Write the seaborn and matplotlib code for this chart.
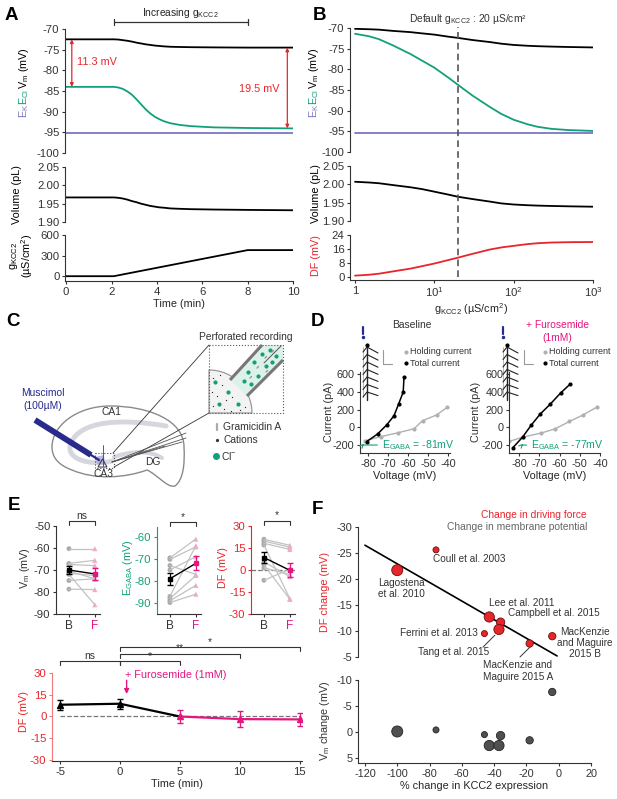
import numpy as np
import pandas as pd
import matplotlib
matplotlib.use("Agg")
import matplotlib.pyplot as plt
import matplotlib.transforms as mtransforms
from matplotlib.path import Path
from matplotlib.patches import PathPatch, Polygon, Rectangle, Wedge
import seaborn as sns

# ---------------- data ----------------
# A: time course while g_KCC2 is ramped
time_a = [0.0, 2.1, 2.3, 2.5, 2.7, 2.9, 3.1, 3.3, 3.5, 3.7, 3.9, 4.1, 4.3, 4.6,
          5.0, 5.5, 6.5, 8.0, 10.0]
vm_a = [-72.5, -72.5, -72.55, -72.7, -72.85, -73.05, -73.3, -73.5, -73.7, -73.85,
        -74.0, -74.1, -74.2, -74.3, -74.35, -74.4, -74.45, -74.5, -74.5]
ecl_a = [-84.0, -84.0, -84.15, -84.5, -85.1, -85.9, -87.0, -88.2, -89.4, -90.4,
         -91.2, -91.8, -92.3, -92.8, -93.2, -93.5, -93.8, -93.95, -94.05]
ek_a = [-95.2] * 19
vol_a = [1.967, 1.967, 1.966, 1.964, 1.961, 1.957, 1.954, 1.950, 1.947, 1.944,
         1.942, 1.940, 1.939, 1.937, 1.936, 1.935, 1.934, 1.933, 1.932]
ramp_t = [0.0, 2.1, 8.0, 10.0]
ramp_g = [0, 0, 380, 380]

# B: steady state vs g_KCC2
g_b = [1, 1.5, 2, 3, 5, 7, 10, 15, 20, 30, 50, 70, 100, 150, 200, 300, 500, 1000]
vm_b = [-70.2, -70.3, -70.4, -70.7, -71.0, -71.3, -71.6, -72.1, -72.4, -72.9,
        -73.4, -73.8, -74.1, -74.3, -74.4, -74.5, -74.6, -74.7]
ecl_b = [-71.4, -72.0, -72.7, -74.2, -76.3, -77.9, -79.6, -82.0, -83.8, -86.3,
         -89.1, -90.8, -92.2, -93.3, -93.9, -94.4, -94.7, -94.9]
ek_b = [-95.3] * 18
vol_b = [2.007, 2.005, 2.003, 1.998, 1.992, 1.987, 1.980, 1.972, 1.966, 1.960,
         1.953, 1.948, 1.945, 1.943, 1.942, 1.941, 1.940, 1.939]
df_b = [0.8, 1.3, 1.9, 3.2, 4.8, 6.2, 7.7, 9.7, 11.1, 13.2, 15.7, 16.9, 17.8,
        18.8, 19.3, 19.7, 19.9, 20.0]
default_g = 20

# D: I-V relations
v_hold_base = [-81.5, -73.7, -64.9, -57.0, -52.7, -45.7, -40.4]
i_hold_base = [-151, -106, -61, -16, 75, 140, 226]
v_tot_base = [-80.7, -75.2, -70.7, -67.0, -64.7, -62.4, -62.0]
i_tot_base = [-162, -75, 26, 131, 263, 399, 565]
v_hold_furo = [-85.0, -78.3, -69.3, -62.2, -55.1, -48.3, -41.6]
i_hold_furo = [-160, -111, -66, -17, 66, 141, 228]
v_tot_furo = [-83.0, -78.3, -74.0, -69.6, -64.6, -59.5, -54.6]
i_tot_furo = [-228, -111, 25, 149, 262, 387, 492]
egaba_base, egaba_furo = -81, -77

# E: paired cells, baseline (B) vs furosemide (F)
vm_cells_b = [-60.3, -67.0, -67.5, -70.5, -71.5, -72.0, -74.8, -78.7]
vm_cells_f = [-60.3, -65.6, -68.0, -74.0, -72.5, -85.8, -74.0, -78.9]
vm_mean, vm_sem = [-70.0, -71.8], [1.6, 2.8]
eg_cells_b = [-69.5, -70.2, -73.0, -75.0, -87.0, -88.0, -89.0, -89.8]
eg_cells_f = [-61.0, -64.5, -77.0, -69.0, -64.0, -77.5, -82.0, -86.0]
eg_mean, eg_sem = [-79.0, -72.0], [2.8, 3.2]
df_cells_b = [21.0, 19.8, 18.2, 17.0, 5.5, 3.5, 1.5, -7.0]
df_cells_f = [16.8, 15.5, 14.0, -19.5, -4.5, -20.0, -3.0, 0.5]
df_mean, df_sem = [8.5, -0.2], [3.5, 4.8]

e_time = [-5, 0, 5, 10, 15]
e_df = [8.1, 8.8, 0.0, -1.8, -2.0]
e_sem = [3.5, 3.6, 4.6, 5.5, 4.4]

# F: literature summary
studies = ["Coull et al. 2003", "Lagostena et al. 2010", "Lee et al. 2011",
           "Campbell et al. 2015", "Ferrini et al. 2013", "Tang et al. 2015",
           "MacKenzie and Maguire 2015 A", "MacKenzie and Maguire 2015 B"]
kcc2_change = [-76, -100, -43, -36, -46, -37, -18, -4]
df_change = [-25.6, -21.7, -12.7, -11.7, -9.5, -10.3, -7.6, -9.0]
vm_change = [-0.4, -0.1, 2.6, 0.7, 0.5, 2.6, 1.6, -7.7]
weight = [5, 10, 9, 7, 5, 9, 6, 6]
fit_x = [-120, -1]
fit_y = [-26.5, -5.2]

# ---------------- style ----------------
GREEN = "#12a07a"
PURPLE = "#7a76c4"
RED = "#e8252b"
SALMON = "#f07a7a"
PINK = "#e4177f"
LPINK = "#f4a9cb"
LGRAY = "#c2c2c2"
INK = "#333333"
NAVY = "#282a8c"
FS = 7.4     # text / axis labels
TS = 8.2     # tick labels

sns.set_theme(style="ticks")
plt.rcParams["font.family"] = ["Liberation Sans", "DejaVu Sans"]
plt.rcParams["mathtext.fontset"] = "custom"
plt.rcParams["mathtext.rm"] = "Liberation Sans"
plt.rcParams["mathtext.it"] = "Liberation Sans:italic"
plt.rcParams["mathtext.default"] = "regular"
plt.rcParams["axes.unicode_minus"] = False
plt.rcParams["font.size"] = FS
plt.rcParams["axes.linewidth"] = 0.8

W, H = 617, 799
fig = plt.figure(figsize=(W / 100, H / 100), dpi=100)

ov = fig.add_axes([0, 0, 1, 1])
ov.set_xlim(0, W)
ov.set_ylim(H, 0)
ov.axis("off")


def px_axes(x0, y0, x1, y1):
    ax = fig.add_axes([x0 / W, 1 - y1 / H, (x1 - x0) / W, (y1 - y0) / H])
    ax.set_facecolor("none")
    return ax


def style(ax, color=INK, bottom=True, size=TS):
    for s in ["top", "right"]:
        ax.spines[s].set_visible(False)
    ax.spines["left"].set_color(color)
    ax.spines["bottom"].set_color(INK)
    ax.tick_params(axis="y", colors=color, labelcolor=color, length=2.5,
                   width=0.8, pad=1.5, labelsize=size)
    ax.tick_params(axis="x", colors=INK, labelcolor=INK, length=2.5,
                   width=0.8, pad=1.5, labelsize=size)
    ax.tick_params(which="minor", length=0)
    if not bottom:
        ax.spines["bottom"].set_visible(False)
        ax.set_xticks([])
    ax.set_xlabel("")
    ax.set_ylabel("")


def txt(x, y, s, **kw):
    kw.setdefault("ha", "center")
    kw.setdefault("va", "center")
    kw.setdefault("fontsize", FS)
    kw.setdefault("color", INK)
    ov.text(x, y, s, **kw)


def bracket(ax, x0, x1, yf, label, drop=0.045, color=INK):
    tr = mtransforms.blended_transform_factory(ax.transData, ax.transAxes)
    ax.plot([x0, x0, x1, x1], [yf - drop, yf, yf, yf - drop], transform=tr,
            color=color, lw=0.8, clip_on=False)
    if label:
        ax.text((x0 + x1) / 2, yf + 0.005, label, transform=tr, ha="center",
                va="bottom", fontsize=FS, color=color)


for letter, (x, y) in {"A": (11, 16), "B": (319, 16), "C": (13, 322),
                       "D": (317, 322), "E": (14, 506), "F": (317, 509)}.items():
    txt(x, y, letter, fontsize=13.5, fontweight="bold", color="black")

# ---------------- panel A ----------------
a1 = px_axes(65, 29, 293, 153)
sns.lineplot(x=time_a, y=ek_a, ax=a1, color=PURPLE, lw=1.3)
sns.lineplot(x=time_a, y=ecl_a, ax=a1, color=GREEN, lw=1.3)
sns.lineplot(x=time_a, y=vm_a, ax=a1, color="black", lw=1.3)
a1.set_xlim(-0.05, 10)
a1.set_ylim(-100, -70)
a1.set_yticks(range(-100, -69, 5))
style(a1, bottom=False)
arrow_kw = dict(arrowstyle="<|-|>", color=RED, lw=0.9, mutation_scale=5,
                shrinkA=0, shrinkB=0)
a1.annotate("", xy=(0.25, ecl_a[0]), xytext=(0.25, vm_a[0]), arrowprops=arrow_kw)
a1.annotate("", xy=(9.75, ecl_a[-1]), xytext=(9.75, vm_a[-1]), arrowprops=arrow_kw)
a1.text(0.5, -78.0, "11.3 mV", color=RED, fontsize=7.8, va="center")
a1.text(9.4, -84.5, "19.5 mV", color=RED, fontsize=7.8, va="center", ha="right")
tr_a = mtransforms.blended_transform_factory(a1.transData, a1.transAxes)
a1.plot([ramp_t[1], ramp_t[2]], [1.056, 1.056], transform=tr_a, color=INK, lw=0.9, clip_on=False)
for xe in (ramp_t[1], ramp_t[2]):
    a1.plot([xe, xe], [1.03, 1.082], transform=tr_a, color=INK, lw=0.9, clip_on=False)
a1.text((ramp_t[1] + ramp_t[2]) / 2, 1.13, "Increasing g$_{KCC2}$", transform=tr_a,
        ha="center", va="center", fontsize=FS)

a2 = px_axes(65, 167, 293, 222)
sns.lineplot(x=time_a, y=vol_a, ax=a2, color="black", lw=1.3)
a2.set_xlim(-0.05, 10)
a2.set_ylim(1.90, 2.05)
a2.set_yticks([1.90, 1.95, 2.00, 2.05])
a2.set_yticklabels(["1.90", "1.95", "2.00", "2.05"])
style(a2, bottom=False)

a3 = px_axes(65, 235, 293, 281)
sns.lineplot(x=ramp_t, y=ramp_g, ax=a3, color="black", lw=1.3)
a3.set_xlim(-0.05, 10)
a3.set_ylim(-70, 600)
a3.set_yticks([0, 300, 600])
a3.set_xticks(range(0, 11, 2))
style(a3)
a3.set_xlabel("Time (min)", fontsize=7.8, labelpad=1.5)


def ylab_stack(x):
    txt(x, 68, "V$_m$ (mV)", rotation=90, color="black", fontsize=7.8)
    txt(x, 97, "E$_{Cl}$", rotation=90, color=GREEN, fontsize=7.8)
    txt(x, 111, "E$_K$", rotation=90, color=PURPLE, fontsize=7.8)


ylab_stack(24)
txt(17, 195, "Volume (pL)", rotation=90, color="black", fontsize=7.8)
txt(14, 256, "g$_{KCC2}$", rotation=90, color="black", fontsize=7.8)
txt(27, 256, "(µS/cm$^2$)", rotation=90, color="black", fontsize=7.8)

# ---------------- panel B ----------------
bx = (0.864, 1000)
b1 = px_axes(350, 28, 593, 152)
b1.set_xscale("log")
sns.lineplot(x=g_b, y=ek_b, ax=b1, color=PURPLE, lw=1.3)
sns.lineplot(x=g_b, y=ecl_b, ax=b1, color=GREEN, lw=1.3)
sns.lineplot(x=g_b, y=vm_b, ax=b1, color="black", lw=1.3)
b1.set_xlim(*bx)
b1.set_ylim(-100, -70)
b1.set_yticks(range(-100, -69, 5))
style(b1, bottom=False)

b2 = px_axes(350, 166, 593, 221)
b2.set_xscale("log")
sns.lineplot(x=g_b, y=vol_b, ax=b2, color="black", lw=1.3)
b2.set_xlim(*bx)
b2.set_ylim(1.90, 2.05)
b2.set_yticks([1.90, 1.95, 2.00, 2.05])
b2.set_yticklabels(["1.90", "1.95", "2.00", "2.05"])
style(b2, bottom=False)

b3 = px_axes(350, 235, 593, 280)
b3.set_xscale("log")
sns.lineplot(x=g_b, y=df_b, ax=b3, color=RED, lw=1.3)
b3.set_xlim(*bx)
b3.set_ylim(-1.7, 24)
b3.set_yticks([0, 8, 16, 24])
b3.set_xticks([1, 10, 100, 1000])
b3.set_xticklabels(["1", "10$^1$", "10$^2$", "10$^3$"])
style(b3)
b3.minorticks_off()
b3.set_xlabel("g$_{KCC2}$ (µS/cm$^2$)", fontsize=7.8, labelpad=1.5)

bo = px_axes(350, 27, 593, 277)
bo.set_xscale("log")
bo.set_xlim(*bx)
bo.axvline(default_g, color="#555555", ls=(0, (4, 2.5)), lw=1.2)
bo.axis("off")
txt(468, 19, "Default g$_{KCC2}$ : %d µS/cm²" % default_g)

ylab_stack(314)
txt(316, 194, "Volume (pL)", rotation=90, color="black", fontsize=7.8)
txt(316, 256, "DF (mV)", rotation=90, color=RED, fontsize=7.8)

# ---------------- panel C (schematic) ----------------
M, C4 = Path.MOVETO, Path.CURVE4
outline = [(52, 447), (52, 425), (78, 406), (110, 406), (148, 406), (184, 420),
           (184, 447), (185, 465), (183, 480), (175, 486), (167, 488), (158, 475),
           (147, 470), (125, 478), (95, 480), (72, 470), (58, 465), (52, 457), (52, 447)]
ov.add_patch(PathPatch(Path(outline, [M] + [C4] * 18), fc="none", ec="#8a8a8a", lw=1.0))
band = [(166, 426), (120, 418), (80, 421), (71, 443), (64, 460), (92, 466), (112, 461)]
ov.add_patch(PathPatch(Path(band, [M] + [C4] * 6), fc="none", ec="#d6d6de", lw=3.5,
                       capstyle="round"))
band2 = [(114, 457), (130, 451), (150, 450), (162, 458)]
ov.add_patch(PathPatch(Path(band2, [M] + [C4] * 3), fc="none", ec="#d6d6de", lw=3.0,
                       capstyle="round"))
ov.plot([35, 91], [420, 455], color=NAVY, lw=4.2, solid_capstyle="butt")
ov.plot([91, 99], [455, 460], color=NAVY, lw=1.6)
ov.add_patch(Polygon([(95, 457), (104, 455), (105, 465), (97, 464)], fc="#a9a4e0", ec="none", alpha=0.8))
ov.add_patch(Polygon([(98, 467), (107, 467), (102.5, 459)], fc="none", ec="#333333", lw=0.7))
ov.plot([103, 103], [445, 466], color="#444444", lw=0.6)
ov.add_patch(Rectangle((95, 453), 19, 15, fc="none", ec="#444444", lw=0.8, ls=":"))
ov.plot([113, 209], [453, 345], color="#333333", lw=0.6)
ov.plot([114, 209], [467, 413], color="#333333", lw=0.6)
for x1, y1 in [(186, 433), (186, 438), (182, 442), (165, 446)]:
    ov.plot([112, x1], [462, y1], color="#555555", lw=0.6)
txt(43, 393, "Muscimol", color=NAVY)
txt(43, 406, "(100µM)", color=NAVY)
txt(111, 412, "CA1")
txt(153, 462, "DG")
txt(103, 474, "CA3")

# inset
ov.add_patch(Wedge((209, 413), 43, 270, 360, fc="#f3f3f3", ec="#9a9a9a", lw=0.9))
pip = [(230, 380), (262, 345), (283, 345), (283, 360), (247, 396)]
ov.add_patch(Polygon(pip, fc="#dcf1e7", ec="none"))
ov.plot([230, 262], [380, 345], color="#777777", lw=2.2, solid_capstyle="butt")
ov.plot([247, 283], [396, 360], color="#777777", lw=2.2, solid_capstyle="butt")
ov.plot([264, 281], [363, 346], color="#555555", lw=0.7)
for x, y in [(248, 372), (254, 362), (262, 354), (270, 350), (276, 356), (266, 366),
             (258, 376), (251, 384), (244, 381), (272, 362), (215, 382), (228, 392),
             (219, 404), (238, 404)]:
    ov.plot(x, y, "o", color=GREEN, ms=3.0, mec="none")
for x, y in [(213, 378), (222, 385), (212, 392), (226, 400), (217, 396), (232, 397),
             (213, 406), (224, 409), (240, 410), (231, 411), (245, 407), (220, 375)]:
    ov.plot(x, y, "o", color="#222222", ms=0.9, mec="none")
for x, y in [(257, 368), (265, 358), (250, 378), (272, 352), (266, 372)]:
    ov.plot([x, x + 1.5], [y, y - 1.5], color="#999999", lw=1.0)
ov.add_patch(Rectangle((209, 345), 74, 68, fc="none", ec="#555555", lw=0.8, ls=":"))
txt(246, 337, "Perforated recording")
ov.plot([217, 217], [424, 430], color="#aaaaaa", lw=1.6)
ov.plot(217, 440, "o", color="#333333", ms=1.3)
ov.plot(216, 456, "o", color=GREEN, ms=5.0, mec="none")
txt(223, 427, "Gramicidin A", ha="left")
txt(223, 440, "Cations", ha="left")
txt(221, 456, "Cl$^{-}$", ha="left")

# ---------------- panel D ----------------
def iv_panel(rect, xlim, vh, ih, vt, it, eg, text_x):
    ax = px_axes(*rect)
    sns.lineplot(x=vh, y=ih, ax=ax, color="#b0b0b0", lw=1.0, marker="o", ms=3,
                 mec="none", sort=False)
    sns.lineplot(x=vt, y=it, ax=ax, color="black", lw=1.1, marker="o", ms=3,
                 mec="none", sort=False)
    ax.set_xlim(*xlim)
    ax.set_ylim(-290, 625)
    ax.set_xticks(range(-80, -39, 10))
    ax.set_yticks(range(-200, 601, 200))
    style(ax, size=7.8)
    ax.set_xlabel("Voltage (mV)", fontsize=7.8, labelpad=1.5)
    ax.annotate("E$_{GABA}$ = %dmV" % eg, xy=(eg - 0.5, -175), xytext=(text_x, -200),
                color=GREEN, fontsize=7.6, va="center",
                arrowprops=dict(arrowstyle="->", color=GREEN, lw=0.8, shrinkA=1, shrinkB=1,
                                mutation_scale=6,
                                connectionstyle="angle,angleA=0,angleB=45,rad=0"))
    return ax


d1 = iv_panel((360, 372, 450, 453), (-84, -39), v_hold_base, i_hold_base,
              v_tot_base, i_tot_base, egaba_base, -73)
d2 = iv_panel((509, 372, 600, 453), (-85, -40), v_hold_furo, i_hold_furo,
              v_tot_furo, i_tot_furo, egaba_furo, -74)
txt(329, 412, "Current (pA)", rotation=90, fontsize=7.8)
txt(476, 412, "Current (pA)", rotation=90, fontsize=7.8)
txt(412, 325, "Baseline")
txt(557, 325, "+ Furosemide", color=PINK)
txt(557, 338, "(1mM)", color=PINK)


def traces(x0, xb):
    ov.plot([x0, x0], [327, 334], color=NAVY, lw=1.6)
    ov.plot(x0, 337, "o", color=NAVY, ms=1.5)
    ov.plot([x0, x0], [347, 397], color="#aaaaaa", lw=0.6)
    ov.plot([x0 + 4, x0 + 4], [345, 400], color="#222222", lw=1.0)
    ov.plot(x0 + 4, 345, "o", color="black", ms=2)
    for k in range(7):
        y = 350 + 7.5 * k
        ov.plot([x0, x0 + 4, x0 + 15], [y + 2, y - 3, y + 3 - 0.4 * k], color="#222222", lw=0.8)
    ov.plot([xb, xb, xb + 9], [350, 364, 364], color="#999999", lw=0.8)


traces(363, 383)
traces(503, 524)
for x, tx in [(406, 410), (545, 549)]:
    ov.plot(x, 352, "o", color="#b0b0b0", ms=3, mec="none")
    ov.plot(x, 363, "o", color="black", ms=3, mec="none")
    txt(tx, 352, "Holding current", ha="left", fontsize=6.5)
    txt(tx, 363, "Total current", ha="left", fontsize=6.5)

# ---------------- panel E (paired cells) ----------------
def paired(rect, ylim, yticks, b, f, mean, sem, color, label, label_x, sig):
    ax = px_axes(*rect)
    cells = pd.DataFrame({"cell": list(range(len(b))) * 2,
                          "cond": [1] * len(b) + [2] * len(f),
                          "value": b + f})
    sns.lineplot(data=cells, x="cond", y="value", units="cell", estimator=None,
                 color=LGRAY, lw=0.9, ax=ax)
    sns.scatterplot(x=[1] * len(b), y=b, ax=ax, color="#a9a9a9", s=12, edgecolor="none")
    sns.scatterplot(x=[2] * len(f), y=f, ax=ax, color=LPINK, s=14, marker="^", edgecolor="none")
    ax.plot([1, 2], mean, color="black", lw=1.0)
    ax.errorbar(1, mean[0], yerr=sem[0], fmt="s", color="black", ms=3.2, capsize=2, elinewidth=0.9)
    ax.errorbar(2, mean[1], yerr=sem[1], fmt="s", color=PINK, ms=3.2, capsize=2, elinewidth=0.9)
    ax.set_xlim(0.5, 2.2)
    ax.set_ylim(*ylim)
    ax.set_yticks(yticks)
    ax.set_xticks([1, 2])
    ax.set_xticklabels(["B", "F"])
    style(ax, color=color)
    ax.tick_params(axis="x", labelsize=8.5)
    ax.get_xticklabels()[1].set_color(PINK)
    bracket(ax, 1, 2, 1.057, sig, drop=0.04)
    txt(label_x, 568, label, rotation=90, color=color, fontsize=7.8)
    return ax


e1 = paired((56, 526, 100, 614), (-90, -50), range(-90, -49, 10), vm_cells_b, vm_cells_f,
            vm_mean, vm_sem, INK, "V$_m$ (mV)", 25, "ns")
e2 = paired((157, 527, 201, 614), (-95, -55.5), range(-90, -59, 10), eg_cells_b, eg_cells_f,
            eg_mean, eg_sem, GREEN, "E$_{GABA}$ (mV)", 128, "*")
e3 = paired((251, 526, 295, 614), (-30, 30), range(-30, 31, 15), df_cells_b, df_cells_f,
            df_mean, df_sem, RED, "DF (mV)", 223, "*")
e3.axhline(0, color="#777777", ls="--", lw=0.9, zorder=0)

# ---------------- panel E (time course) ----------------
e4 = px_axes(52, 673, 302, 761)
e4.hlines(0, min(e_time), max(e_time), color="#777777", ls="--", lw=0.9)
sns.lineplot(x=e_time[:3], y=e_df[:3], ax=e4, color="black", lw=1.6)
sns.lineplot(x=e_time[2:], y=e_df[2:], ax=e4, color=PINK, lw=1.6)
e4.errorbar(e_time[:2], e_df[:2], yerr=e_sem[:2], fmt="^", color="black", ms=4,
            capsize=2.5, elinewidth=0.9)
e4.errorbar(e_time[2:], e_df[2:], yerr=e_sem[2:], fmt="^", color=PINK, ms=4,
            capsize=2.5, elinewidth=0.9)
e4.set_xlim(-5.67, 15.2)
e4.set_ylim(-30.7, 30)
e4.set_yticks(range(-30, 31, 15))
e4.set_xticks(range(-5, 16, 5))
style(e4, color=SALMON)
e4.tick_params(axis="y", labelcolor=RED)
e4.set_xlabel("Time (min)", fontsize=7.8, labelpad=1.5)
bracket(e4, -5, 0, 1.136, "ns", drop=0.045)
bracket(e4, 0, 5, 1.136, "*", drop=0.045)
bracket(e4, 0, 10, 1.216, "**", drop=0.045)
bracket(e4, 0, 15, 1.295, "*", drop=0.045)
e4.text(0.45, 28.3, "+ Furosemide (1mM)", color=PINK, fontsize=7.8, va="center")
e4.annotate("", xy=(0.56, 15.5), xytext=(0.56, 25),
            arrowprops=dict(arrowstyle="-|>", color=PINK, lw=1.0, mutation_scale=7,
                            shrinkA=0, shrinkB=0))
txt(24, 712, "DF (mV)", rotation=90, color=RED, fontsize=7.8)

# ---------------- panel F ----------------
lit = pd.DataFrame({"study": studies, "kcc2": kcc2_change, "df": df_change,
                    "vm": vm_change, "weight": weight})
f1 = px_axes(358, 527, 591, 657)
sns.lineplot(x=fit_x, y=fit_y, ax=f1, color="black", lw=1.2)
sns.scatterplot(data=lit, x="kcc2", y="df", size="weight", sizes=(19, 63), ax=f1,
                color=RED, edgecolor="#6a1010", linewidth=0.6, legend=False, zorder=3)
f1.set_xlim(-124.3, 20)
f1.set_ylim(-5, -30)
f1.set_yticks(range(-30, -4, 5))
style(f1, bottom=False, size=7.8)

f2 = px_axes(358, 680, 591, 763)
sns.scatterplot(data=lit, x="kcc2", y="vm", size="weight", sizes=(19, 63), ax=f2,
                color="#505050", edgecolor="#222222", linewidth=0.6, legend=False, zorder=3)
f2.set_xlim(-124.3, 20)
f2.set_ylim(5.96, -10)
f2.set_yticks([-10, -5, 0, 5])
f2.set_xticks(range(-120, 21, 20))
style(f2, size=7.8)
f2.set_xlabel("% change in KCC2 expression", fontsize=7.8, labelpad=1.5)

lab = dict(fontsize=7.2, color=INK, va="center", clip_on=False)
f1.text(-77.9, -23.8, "Coull et al. 2003", ha="left", **lab)
f1.text(-112, -18.1, "Lagostena\net al. 2010", ha="left", linespacing=1.15, **lab)
f1.text(-43.2, -15.4, "Lee et al. 2011", ha="left", **lab)
f1.text(-31.4, -13.5, "Campbell et al. 2015", ha="left", **lab)
f1.text(-50.0, -9.6, "Ferrini et al. 2013", ha="right", **lab)
f1.text(-87.2, -6.0, "Tang et al. 2015", ha="left", **lab)
f1.text(-46.9, -2.3, "MacKenzie and\nMaguire 2015 A", ha="left", linespacing=1.15, **lab)
f1.text(16.0, -7.7, "MacKenzie\nand Maguire\n2015 B", ha="center", linespacing=1.15, **lab)
f1.plot([-46.9, -39.5], [-6.9, -9.2], color=INK, lw=0.7)
f1.plot([-24.0, -17.8], [-5.0, -6.9], color=INK, lw=0.7, clip_on=False)
txt(587, 515, "Change in driving force", ha="right", color=RED)
txt(587, 527, "Change in membrane potential", ha="right", color="#666666")
txt(325, 592, "DF change (mV)", rotation=90, color=RED, fontsize=7.8)
txt(325, 721, "V$_m$ change (mV)", rotation=90, fontsize=7.8)

fig.savefig("out.png", dpi=100, facecolor="white")
